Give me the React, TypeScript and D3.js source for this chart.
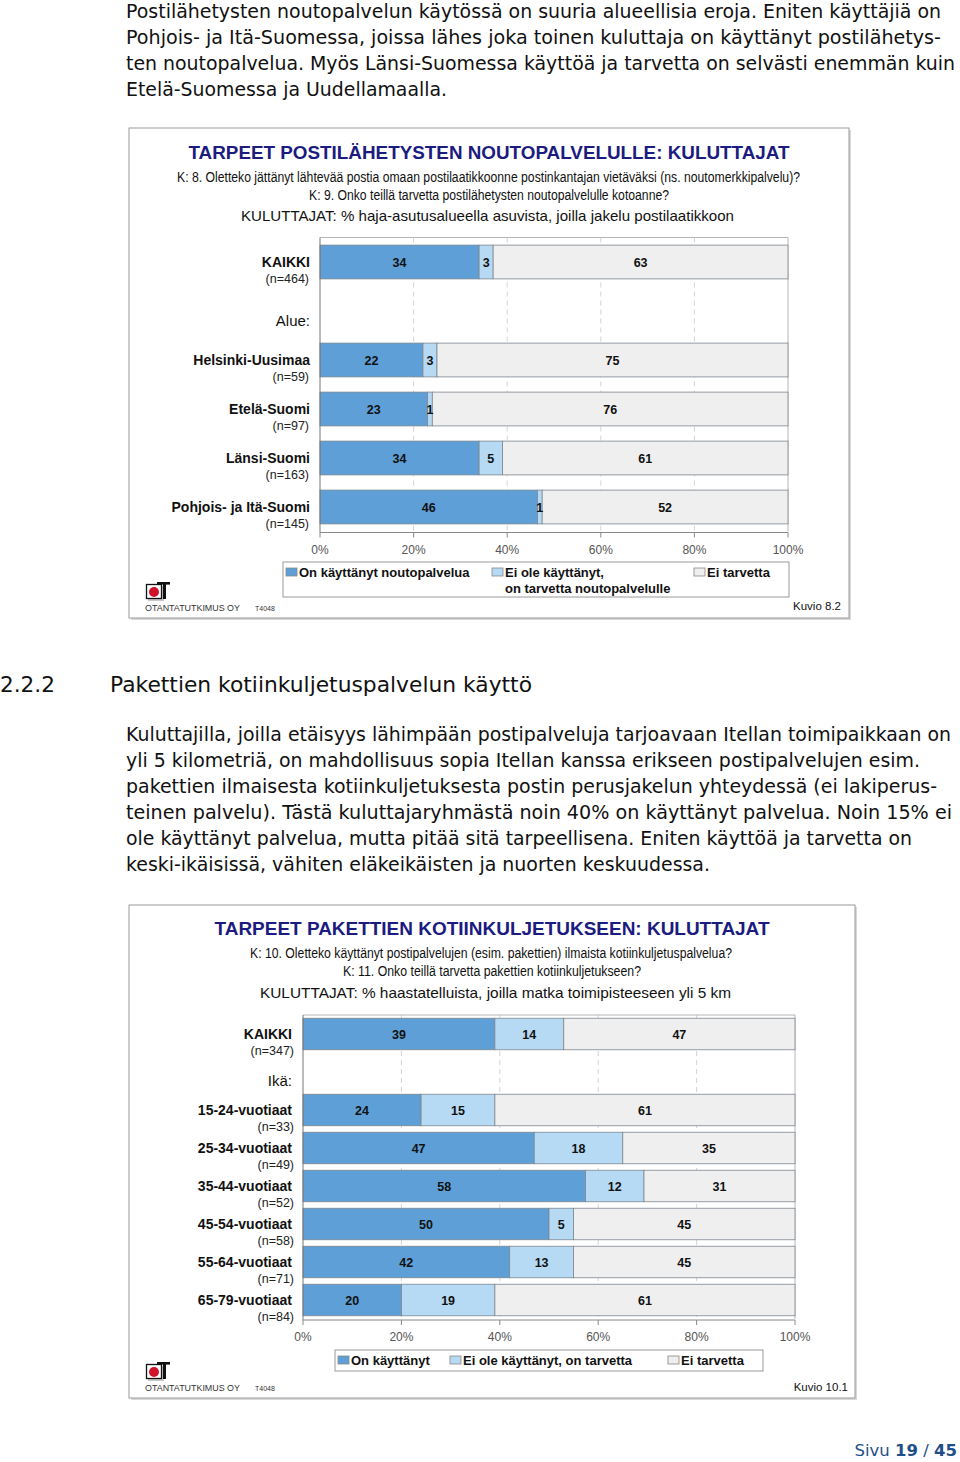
import React from "react";
import * as d3 from "d3";

// ---------- Data ----------
const series = ["used", "need", "noneed"];

const cats1 = ["KAIKKI", "Alue:", "Helsinki-Uusimaa", "Etelä-Suomi", "Länsi-Suomi", "Pohjois- ja Itä-Suomi"];
const nLabels1 = ["(n=464)", "", "(n=59)", "(n=97)", "(n=163)", "(n=145)"];
const used1 = [34, null, 22, 23, 34, 46];
const need1 = [3, null, 3, 1, 5, 1];
const noneed1 = [63, null, 75, 76, 61, 52];
const legend1 = [["On käyttänyt noutopalvelua"], ["Ei ole käyttänyt,", "on tarvetta noutopalvelulle"], ["Ei tarvetta"]];

const cats2 = ["KAIKKI", "Ikä:", "15-24-vuotiaat", "25-34-vuotiaat", "35-44-vuotiaat", "45-54-vuotiaat", "55-64-vuotiaat", "65-79-vuotiaat"];
const nLabels2 = ["(n=347)", "", "(n=33)", "(n=49)", "(n=52)", "(n=58)", "(n=71)", "(n=84)"];
const used2 = [39, null, 24, 47, 58, 50, 42, 20];
const need2 = [14, null, 15, 18, 12, 5, 13, 19];
const noneed2 = [47, null, 61, 35, 31, 45, 45, 61];
const legend2 = [["On käyttänyt"], ["Ei ole käyttänyt, on tarvetta"], ["Ei tarvetta"]];

const xTicks = [0, 0.2, 0.4, 0.6, 0.8, 1];

const para1 = [
  "Postilähetysten noutopalvelun käytössä on suuria alueellisia eroja. Eniten käyttäjiä on",
  "Pohjois- ja Itä-Suomessa, joissa lähes joka toinen kuluttaja on käyttänyt postilähetys-",
  "ten noutopalvelua. Myös Länsi-Suomessa käyttöä ja tarvetta on selvästi enemmän kuin",
  "Etelä-Suomessa ja Uudellamaalla.",
];
const para2 = [
  "Kuluttajilla, joilla etäisyys lähimpään postipalveluja tarjoavaan Itellan toimipaikkaan on",
  "yli 5 kilometriä, on mahdollisuus sopia Itellan kanssa erikseen postipalvelujen esim.",
  "pakettien ilmaisesta kotiinkuljetuksesta postin perusjakelun yhteydessä (ei lakiperus-",
  "teinen palvelu). Tästä kuluttajaryhmästä noin 40% on käyttänyt palvelua. Noin 15% ei",
  "ole käyttänyt palvelua, mutta pitää sitä tarpeellisena. Eniten käyttöä ja tarvetta on",
  "keski-ikäisissä, vähiten eläkeikäisten ja nuorten keskuudessa.",
];
const para1Widths = [815, 815, 829, 321];
const para2Widths = [825, 794, 811, 826, 786, 584];

// ---------- Styles ----------
const colors = ["#5d9fd6", "#b6d9f4", "#efefef"];
const SANS = "'Liberation Sans', Arial, sans-serif";
const NARROW = "'Liberation Sans Narrow', 'Liberation Sans', Arial, sans-serif";
const VERD = "'DejaVu Sans', Verdana, sans-serif";
const NAVY = "#1b1b80";

function Logo({ x, y }: { x: number; y: number }) {
  return (
    <g>
      <rect x={x + 3} y={y + 4} width={16} height={15} fill="#c8c8c8" />
      <rect x={x + 1.5} y={y + 2.5} width={15} height={14} fill="#fff" stroke="#111" strokeWidth={1.3} />
      <circle cx={x + 9} cy={y + 10} r={5} fill="#d0112b" />
      <rect x={x + 12} y={y} width={13} height={2.6} fill="#111" />
      <rect x={x + 18} y={y} width={3} height={17} fill="#111" />
      <text x={x} y={y + 29} fontFamily={SANS} fontSize={9.5} fill="#333" textLength={95} lengthAdjust="spacingAndGlyphs">OTANTATUTKIMUS OY</text>
      <text x={x + 110} y={y + 29} fontFamily={SANS} fontSize={7} fill="#333">T4048</text>
    </g>
  );
}

type ChartProps = {
  frame: [number, number, number, number];
  title: string; titleW: number; titleY: number;
  subs: { t: string; x: number; w: number; y: number; size: number; narrow: boolean }[];
  cats: string[]; nLabels: string[];
  vals: (number | null)[][];
  plot: { x0: number; x1: number; y0: number; y1: number; pad: number };
  labelX: number; nX: number; groupOffset: number;
  tickY: number;
  legend: string[][];
  legendBox: [number, number, number, number];
  legendItems: number[]; legendTextY: number;
  logo: [number, number];
  kuvio: string; kuvioX: number; kuvioY: number;
};

function StackChart(p: ChartProps) {
  const [fx0, fy0, fx1, fy1] = p.frame;
  const x = d3.scaleLinear().domain([0, 1]).range([p.plot.x0, p.plot.x1]);
  const y = d3.scaleBand<string>().domain(p.cats).range([p.plot.y0, p.plot.y1]).paddingInner(p.plot.pad).paddingOuter(p.plot.pad / 2);
  const rows = p.cats.map((c, i) => {
    const o: any = { cat: c };
    series.forEach((s, k) => (o[s] = p.vals[k][i]));
    return o;
  });
  const valid = rows.filter((r) => r.used != null);
  const totals = new Map(valid.map((r) => [r.cat, r.used + r.need + r.noneed]));
  const norm = valid.map((r) => {
    const t = totals.get(r.cat) as number;
    return { cat: r.cat, used: r.used / t, need: r.need / t, noneed: r.noneed / t, raw: r };
  });
  const stack = d3.stack<any>().keys(series)(norm);
  const fmt = d3.format(".0%");
  return (
    <g>
      <rect x={fx0 + 2} y={fy0 + 2} width={fx1 - fx0} height={fy1 - fy0} fill="#d8d8d8" />
      <rect x={fx0} y={fy0} width={fx1 - fx0} height={fy1 - fy0} fill="#fff" stroke="#9a9a9a" strokeWidth={1} />
      <text x={(fx0 + fx1) / 2} y={p.titleY} textAnchor="middle" fontFamily={SANS} fontWeight="bold" fontSize={18.5} fill={NAVY} textLength={p.titleW} lengthAdjust="spacingAndGlyphs">{p.title}</text>
      {p.subs.map((s, i) => (
        <text key={i} x={s.x} y={s.y} fontFamily={s.narrow ? NARROW : SANS} fontSize={s.size} fill="#111" textLength={s.w} lengthAdjust="spacingAndGlyphs">{s.t}</text>
      ))}
      {xTicks.slice(1, -1).map((t) => (
        <line key={t} x1={x(t)} x2={x(t)} y1={p.plot.y0} y2={p.plot.y1} stroke="#d4d4d4" strokeDasharray="5,4" strokeWidth={1} />
      ))}
      <line x1={p.plot.x0} x2={p.plot.x1} y1={p.plot.y0} y2={p.plot.y0} stroke="#b5b5b5" />
      <line x1={p.plot.x1} x2={p.plot.x1} y1={p.plot.y0} y2={p.plot.y1} stroke="#b5b5b5" />
      {stack.map((layer, k) => (
        <g key={layer.key}>
          {layer.map((d: any, i: number) => {
            const yy = y(d.data.cat) as number;
            return (
              <rect key={i} x={x(d[0])} y={yy} width={x(d[1]) - x(d[0])} height={y.bandwidth()} fill={colors[k]} stroke="#7d8790" strokeWidth={0.8} />
            );
          })}
        </g>
      ))}
      {stack.map((layer) => (
        <g key={"l" + layer.key}>
          {layer.map((d: any, i: number) => {
            const v = d.data.raw[layer.key];
            if (!v) return null;
            const yy = (y(d.data.cat) as number) + y.bandwidth() / 2;
            return (
              <text key={i} x={(x(d[0]) + x(d[1])) / 2} y={yy + 4.5} textAnchor="middle" fontFamily={NARROW} fontWeight="bold" fontSize={12.5} fill="#111">{v}</text>
            );
          })}
        </g>
      ))}
      <line x1={p.plot.x0} x2={p.plot.x0} y1={p.plot.y0} y2={p.plot.y1 + 1} stroke="#777" />
      <line x1={p.plot.x0} x2={p.plot.x1} y1={p.plot.y1 + 1} y2={p.plot.y1 + 1} stroke="#888" />
      {xTicks.map((t) => (
        <g key={"t" + t}>
          <line x1={x(t)} x2={x(t)} y1={p.plot.y1 + 1} y2={p.plot.y1 + 6} stroke="#888" />
          <text x={x(t)} y={p.tickY} textAnchor="middle" fontFamily={SANS} fontSize={12} fill="#555">{fmt(t)}</text>
        </g>
      ))}
      {p.cats.map((c, i) => {
        const cy = (y(c) as number) + y.bandwidth() / 2;
        const isGroup = !p.nLabels[i];
        return (
          <g key={"c" + i}>
            <text x={p.labelX} y={cy + (isGroup ? p.groupOffset : 5)} textAnchor="end" fontFamily={SANS} fontWeight={isGroup ? "normal" : "bold"} fontSize={isGroup ? 15 : 14} fill="#111">{c}</text>
            {!isGroup && (
              <text x={p.nX} y={cy + 20.5} textAnchor="end" fontFamily={SANS} fontSize={12.5} fill="#222">{p.nLabels[i]}</text>
            )}
          </g>
        );
      })}
      <rect x={p.legendBox[0]} y={p.legendBox[1]} width={p.legendBox[2] - p.legendBox[0]} height={p.legendBox[3] - p.legendBox[1]} fill="#fff" stroke="#9a9a9a" />
      {p.legend.map((lines, k) => (
        <g key={"lg" + k}>
          <rect x={p.legendItems[k]} y={p.legendTextY - 9} width={11} height={8} fill={colors[k]} stroke="#888" strokeWidth={0.8} />
          {lines.map((ln, j) => (
            <text key={j} x={p.legendItems[k] + 13} y={p.legendTextY + j * 16} fontFamily={SANS} fontWeight="bold" fontSize={13} fill="#111">{ln}</text>
          ))}
        </g>
      ))}
      <Logo x={p.logo[0]} y={p.logo[1]} />
      <text x={p.kuvioX} y={p.kuvioY} textAnchor="end" fontFamily={SANS} fontSize={11.5} fill="#111">{p.kuvio}</text>
    </g>
  );
}

export default function App() {
  return (
    <svg width={960} height={1462} viewBox="0 0 960 1462" style={{ position: "absolute", left: 0, top: 0, background: "#fff" }}>
      <rect width={960} height={1462} fill="#fff" />
      {para1.map((t, i) => (
        <text key={i} x={126} y={18 + i * 26} fontFamily={VERD} fontSize={19.5} fill="#111" textLength={para1Widths[i]} lengthAdjust="spacingAndGlyphs">{t}</text>
      ))}
      <StackChart
        frame={[129, 128, 849, 618]}
        title="TARPEET POSTILÄHETYSTEN NOUTOPALVELULLE: KULUTTAJAT" titleW={601} titleY={159}
        subs={[
          { t: "K: 8. Oletteko jättänyt lähtevää postia omaan postilaatikkoonne postinkantajan vietäväksi (ns. noutomerkkipalvelu)?", x: 177, w: 623, y: 182, size: 14, narrow: true },
          { t: "K: 9. Onko teillä tarvetta postilähetysten noutopalvelulle kotoanne?", x: 309, w: 360, y: 200, size: 14, narrow: true },
          { t: "KULUTTAJAT: % haja-asutusalueella asuvista, joilla jakelu postilaatikkoon", x: 241, w: 493, y: 221, size: 15, narrow: false },
        ]}
        cats={cats1} nLabels={nLabels1} vals={[used1, need1, noneed1]}
        plot={{ x0: 320, x1: 788, y0: 237.5, y1: 531.5, pad: 0.31 }}
        labelX={310} nX={309} groupOffset={14.5}
        tickY={554}
        legend={legend1} legendBox={[283, 562, 789, 597]} legendItems={[286, 492, 694]} legendTextY={577}
        logo={[145, 582]}
        kuvio="Kuvio 8.2" kuvioX={841} kuvioY={610}
      />
      <text x={0} y={692} fontFamily={VERD} fontSize={21} fill="#111" textLength={55} lengthAdjust="spacingAndGlyphs">2.2.2</text>
      <text x={110} y={692} fontFamily={VERD} fontSize={21} fill="#111" textLength={422} lengthAdjust="spacingAndGlyphs">Pakettien kotiinkuljetuspalvelun käyttö</text>
      {para2.map((t, i) => (
        <text key={i} x={126} y={741 + i * 26} fontFamily={VERD} fontSize={19.5} fill="#111" textLength={para2Widths[i]} lengthAdjust="spacingAndGlyphs">{t}</text>
      ))}
      <StackChart
        frame={[129, 905, 855, 1398]}
        title="TARPEET PAKETTIEN KOTIINKULJETUKSEEN: KULUTTAJAT" titleW={555} titleY={935}
        subs={[
          { t: "K: 10. Oletteko käyttänyt postipalvelujen (esim. pakettien) ilmaista kotiinkuljetuspalvelua?", x: 250, w: 482, y: 958, size: 14, narrow: true },
          { t: "K: 11. Onko teillä tarvetta pakettien kotiinkuljetukseen?", x: 343, w: 298, y: 976, size: 14, narrow: true },
          { t: "KULUTTAJAT: % haastatelluista, joilla matka toimipisteeseen yli 5 km", x: 260, w: 471, y: 998, size: 15, narrow: false },
        ]}
        cats={cats2} nLabels={nLabels2} vals={[used2, need2, noneed2]}
        plot={{ x0: 303, x1: 795, y0: 1015, y1: 1319, pad: 0.17 }}
        labelX={292} nX={294} groupOffset={13.5}
        tickY={1341}
        legend={legend2} legendBox={[335, 1350, 763, 1371]} legendItems={[338, 450, 668]} legendTextY={1365}
        logo={[145, 1362]}
        kuvio="Kuvio 10.1" kuvioX={848} kuvioY={1391}
      />
      <text x={957} y={1456} textAnchor="end" fontFamily={VERD} fontSize={16.5} fill="#1f4f8a">
        Sivu <tspan fontWeight="bold">19</tspan> / <tspan fontWeight="bold">45</tspan>
      </text>
    </svg>
  );
}
